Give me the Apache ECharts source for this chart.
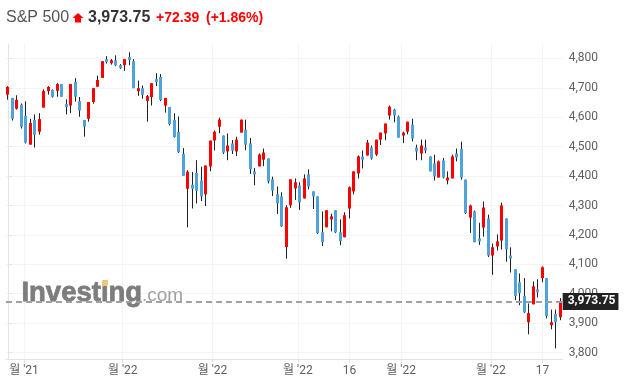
<!DOCTYPE html>
<html><head><meta charset="utf-8">
<style>html,body{margin:0;padding:0;background:#fff}#c{width:625px;height:390px}</style>
<script src="https://cdn.jsdelivr.net/npm/echarts@6/dist/echarts.min.js"></script>
</head><body><div id="c"></div>
<script>
const opens=[4677,4666,4629,4643,4605,4507,4591,4551,4633,4689,
4693,4690,4713,4645,4640,4720,4655,4591,4595,4652,
4704,4734,4798,4784,4794,4777,4777,4805,4791,4689,
4699,4656,4669,4730,4737,4640,4635,4591,4550,4476,
4357,4371,4411,4385,4338,4433,4521,4568,4538,4484,
4511,4484,4548,4558,4511,4416,4433,4456,4460,4389,
4338,4331,4159,4301,4358,4368,4324,4406,4348,4331,
4209,4226,4253,4284,4209,4192,4290,4348,4409,4467,
4470,4497,4473,4524,4545,4606,4626,4602,4538,4551,
4575,4497,4477,4497,4467,4443,4395,4453,4385,4392,
4477,4493,4388,4259,4280,4188,4225,4256,4130,4161,
4181,4256,4130,4083,4039,3992,3903,3964,4015,4053,
4053,3893,3931,3920];
const closes=[4703,4595,4659,4568,4514,4581,4541,4594,4689,4703,
4670,4713,4670,4635,4713,4670,4623,4568,4652,4699,
4727,4791,4788,4794,4777,4767,4798,4794,4699,4699,
4677,4672,4716,4720,4659,4666,4577,4533,4482,4401,
4415,4357,4350,4331,4436,4521,4551,4592,4480,4504,
4487,4524,4592,4507,4423,4406,4473,4480,4382,4351,
4307,4229,4294,4389,4379,4311,4392,4365,4331,4206,
4175,4284,4263,4209,4179,4267,4362,4416,4467,4456,
4514,4460,4524,4548,4579,4636,4606,4531,4548,4585,
4528,4484,4504,4487,4416,4399,4450,4395,4395,4467,
4463,4395,4274,4300,4175,4178,4293,4130,4158,4178,
4300,4151,4120,3992,4002,3937,3934,4025,4005,4090,
3924,3903,3903,3973.75];
const highs=[4706,4666,4675,4647,4654,4595,4610,4614,4695,4706,
4695,4716,4713,4661,4713,4733,4669,4591,4652,4699,
4742,4791,4808,4798,4811,4781,4798,4821,4798,4725,
4708,4676,4716,4750,4747,4666,4635,4614,4603,4495,
4420,4414,4454,4432,4436,4521,4555,4599,4538,4545,
4523,4534,4592,4592,4530,4428,4477,4494,4460,4398,
4365,4345,4301,4389,4392,4379,4406,4423,4348,4331,
4280,4284,4272,4284,4253,4277,4365,4416,4470,4487,
4523,4504,4524,4548,4579,4640,4629,4606,4551,4585,
4595,4507,4524,4524,4467,4473,4453,4462,4416,4473,
4494,4517,4388,4303,4283,4241,4314,4269,4171,4202,
4310,4256,4158,4083,4069,4053,3967,4042,4049,4093,
4053,3946,3946,3985];
const lows=[4660,4589,4626,4562,4511,4507,4497,4541,4633,4677,
4667,4670,4670,4610,4614,4653,4602,4534,4585,4646,
4704,4734,4783,4779,4774,4764,4758,4777,4699,4673,
4663,4585,4640,4706,4655,4616,4572,4531,4479,4401,
4226,4290,4307,4315,4298,4417,4487,4546,4475,4454,
4475,4468,4548,4488,4407,4369,4433,4434,4375,4332,
4271,4227,4119,4292,4319,4285,4324,4355,4288,4203,
4162,4226,4212,4206,4165,4192,4256,4338,4392,4426,
4470,4456,4468,4506,4522,4592,4583,4531,4512,4542,
4518,4454,4454,4478,4416,4385,4395,4392,4372,4392,
4450,4388,4271,4207,4175,4166,4194,4125,4064,4147,
4150,4109,4072,3978,3961,3934,3862,3964,3987,4039,
3916,3879,3814,3910];
const xTickSpots=[3.5,25.5,45.5,64.5,76,87.5,107.5,119];
const xTickLabels=["월 '21","월 '22","월 '22","월 '22","16","월 '22","월 '22","17"];
const yTicks=[3800,3900,4000,4100,4200,4300,4400,4500,4600,4700,4800];
const lastPrice=3973.75;
const fmt=v=>String(v).replace(/\B(?=(\d{3})(?!\d))/g,',');
const RED='#ff0000',BLUE='#4fa3dc',DARK='#222222',GRID='#f4f4f5',AXIS='#e3e3e6',TXT='#5f5f5f';
const wickRows=opens.map((o,i)=>[i,o,closes[i],lows[i],highs[i]]);
const bodyRows=opens.map((o,i)=>[i,o,closes[i],Math.min(o,closes[i]),Math.max(o,closes[i])]);
const chart=echarts.init(document.getElementById('c'),null,{renderer:'canvas'});
const FONT='Roboto,"Noto Sans CJK KR",sans-serif';
const HEAD='"Liberation Sans",Arial,sans-serif';
chart.setOption({
 animation:false,backgroundColor:'#fff',
 grid:{left:6,right:62.3,top:44,bottom:31},
 xAxis:{type:'value',min:-0.5,max:123.5,
  axisLine:{onZero:false,lineStyle:{color:AXIS}},
  axisTick:{show:true,length:4,lineStyle:{color:AXIS},customValues:xTickSpots},
  splitLine:{show:true,lineStyle:{color:GRID}},
  axisLabel:{customValues:xTickSpots,formatter:v=>xTickLabels[xTickSpots.indexOf(v)]||'',
   color:TXT,fontFamily:FONT,fontSize:12,margin:6,hideOverlap:false}},
 yAxis:{type:'value',position:'right',min:3778,max:4849.3,
  axisLine:{show:true,lineStyle:{color:AXIS}},
  axisTick:{show:true,length:4,lineStyle:{color:AXIS},customValues:yTicks},
  splitLine:{show:true,lineStyle:{color:GRID}},
  axisLabel:{customValues:yTicks,formatter:v=>fmt(v),color:TXT,fontFamily:FONT,fontSize:12,margin:6}},
 series:[
  {type:'candlestick',name:'wick',barWidth:0,encode:{x:0,y:[1,2,3,4]},data:wickRows,z:3,
   itemStyle:{color:DARK,color0:DARK,borderColor:DARK,borderColor0:DARK,borderWidth:1}},
  {type:'candlestick',name:'body',barWidth:0,encode:{x:0,y:[1,2,3,4]},data:bodyRows,z:4,
   itemStyle:{color:RED,color0:BLUE,borderColor:RED,borderColor0:BLUE,borderWidth:3},
   markLine:{silent:true,symbol:'none',animation:false,
    lineStyle:{color:'#a0a0a0',type:[6,4],width:2},
    label:{show:true,position:'end',distance:0,formatter:()=>fmt(lastPrice),
     color:'#fff',fontWeight:'bold',fontFamily:FONT,fontSize:12,
     backgroundColor:'#222',padding:[3,3,2,5]},
    data:[{yAxis:lastPrice}]}}
 ],
 graphic:[
  {type:'text',left:6,top:10,z:5,style:{text:'S&P 500',font:'16px '+HEAD,fill:'#555'}},
  {type:'polygon',z:5,shape:{points:[[78,13],[83.5,18],[81,18],[81,22.5],[75,22.5],[75,18],[72.5,18]]},style:{fill:RED}},
  {type:'text',left:88,top:10,z:5,style:{text:'3,973.75',font:'bold 16px '+HEAD,fill:'#333'}},
  {type:'text',left:156,top:11,z:5,style:{text:'+72.39',font:'bold 14px '+HEAD,fill:RED}},
  {type:'text',left:206,top:11,z:5,style:{text:'(+1.86%)',font:'bold 14px '+HEAD,fill:RED}},
  {type:'text',left:21,top:279,z:1,style:{text:'Investing',font:'bold 27.5px '+HEAD,fill:'#7d7d7d',stroke:'#7d7d7d',lineWidth:0.8}},
  {type:'polygon',z:1,shape:{points:[[102,281.5],[108,279.5],[108,285],[102,286.5]]},style:{fill:'#f6c66f'}},
  {type:'text',left:142,top:286,z:1,style:{text:'.com',font:'19px '+HEAD,fill:'#a0a0a0'}}
 ]
});
</script></body></html>
